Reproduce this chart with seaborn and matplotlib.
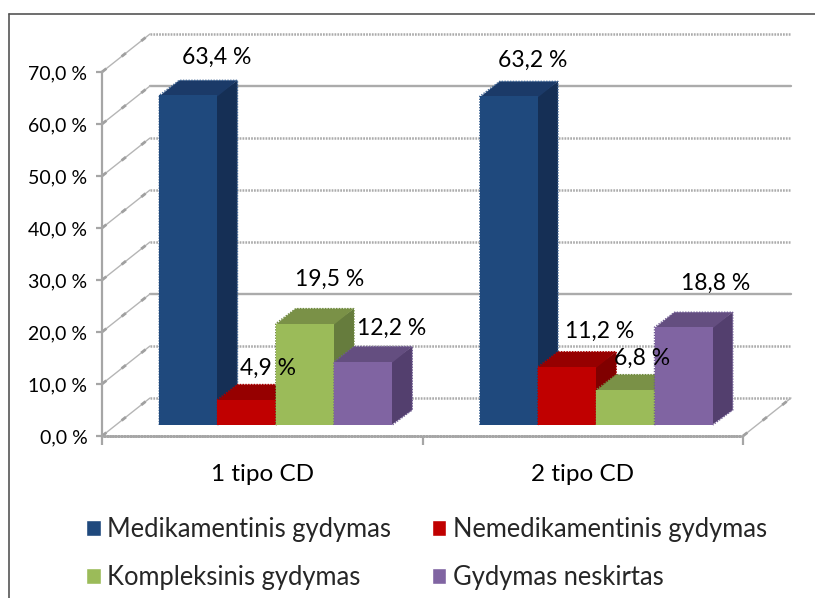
import matplotlib
matplotlib.use("Agg")
import matplotlib.pyplot as plt
from matplotlib.lines import Line2D
from matplotlib.patches import Polygon
from matplotlib.ticker import FuncFormatter
import pandas as pd
import seaborn as sns

# Values
groups = ["1 tipo CD", "2 tipo CD"]
treatments = ["Medikamentinis gydymas", "Nemedikamentinis gydymas",
              "Kompleksinis gydymas", "Gydymas neskirtas"]
medikamentinis = [63.4, 63.2]
nemedikamentinis = [4.9, 11.2]
kompleksinis = [19.5, 6.8]
neskirtas = [12.2, 18.8]
y_ticks = [0, 10, 20, 30, 40, 50, 60, 70]

# Face colours per series: front, top, side, dotted outline
front_colors = ["#1F497D", "#C00000", "#9BBB59", "#8064A2"]
top_colors = ["#1B3A68", "#960000", "#7A9147", "#644E80"]
side_colors = ["#152F55", "#800000", "#667C3D", "#533F6E"]
edge_colors = ["#3F6594", "#A80000", "#6F8A40", "#6E5A92"]

W, H = 815, 598
sns.set_theme(style="white")
plt.rcParams["font.family"] = ["Lato", "DejaVu Sans"]

df = pd.DataFrame({
    "group": groups * 4,
    "treatment": [t for t in treatments for _ in groups],
    "value": medikamentinis + nemedikamentinis + kompleksinis + neskirtas,
})

fig = plt.figure(figsize=(W / 100, H / 100), dpi=100, facecolor="white")
ax = fig.add_axes([102 / W, 1 - 436 / H, (743 - 102) / W, (436 - 72) / H])

sns.barplot(data=df, x="group", y="value", hue="treatment", order=groups,
            hue_order=treatments, palette=front_colors, saturation=1,
            width=0.727, gap=0, dodge=True, errorbar=None, ax=ax, legend=True)
ax.set_xlim(-0.5, 1.5)
ax.set_ylim(0, 70)

# Pixel lengths expressed in data units
px_x = 2 / (743 - 102)
px_y = 70 / (436 - 72)

# Room of the pseudo-3D scene: back wall, side wall and floor
room_dx, room_dy = 48 * px_x, 38 * px_y
grid_c = "#ABABAB"
dotted = (0, (0.7, 0.45))
for t in y_ticks:
    style = "-" if t in (20, 60) else dotted
    ax.plot([-0.5 + room_dx, 1.5 + room_dx], [t + room_dy] * 2, color=grid_c,
            lw=1.7 if t in (20, 60) else 1.8, ls=style, clip_on=False, zorder=1)
    ax.plot([-0.5, -0.5 + room_dx], [t, t + room_dy], color="#B5B5B5", lw=1,
            clip_on=False, zorder=1)
    ax.plot([-0.5, -0.5 + room_dx], [t, t + room_dy], color="#A0A0A0", lw=2,
            ls=(0, (2, 7)), clip_on=False, zorder=1)
ax.plot([1.5, 1.5 + room_dx], [0, room_dy], color="#B5B5B5", lw=1, clip_on=False, zorder=1)
ax.plot([1.5, 1.5 + room_dx], [0, room_dy], color="#A0A0A0", lw=2,
        ls=(0, (2, 7)), clip_on=False, zorder=1)

# Bars sit forward of the wall: move them onto the raised floor and add depth faces
lift = 11 * px_y
shift = 13.5 * px_x
depth_x, depth_y = 20 * px_x, 15 * px_y
label_offsets = [
    [(28, -38), (24, -36)],
    [(21, -31), (33, -35)],
    [(25, -44), (17, -31)],
    [(28, -33), (32, -44)],
]
order = 3
for g in range(len(groups)):
    for s, container in enumerate(ax.containers):
        bar = container[g]
        bar.set_x(bar.get_x() + shift)
        bar.set_y(lift)
        x0, x1 = bar.get_x(), bar.get_x() + bar.get_width()
        y0, y1 = lift, lift + bar.get_height()
        # Faces tuck one pixel under the front so no seam shows at the joins
        ax.add_patch(Polygon([(x1 - px_x, y0), (x1 + depth_x, y0 + depth_y),
                              (x1 + depth_x, y1 + depth_y), (x1 - px_x, y1)],
                             facecolor=side_colors[s], edgecolor="none", zorder=order))
        ax.add_patch(Polygon([(x0, y1 - px_y), (x1, y1 - px_y),
                              (x1 + depth_x, y1 + depth_y), (x0 + depth_x, y1 + depth_y)],
                             facecolor=top_colors[s], edgecolor="none", zorder=order))
        # Dotted fringe around the outer silhouette of the block
        ax.add_patch(Polygon([(x0, y0), (x0, y1), (x0 + depth_x, y1 + depth_y),
                              (x1 + depth_x, y1 + depth_y), (x1 + depth_x, y0 + depth_y),
                              (x1, y0)],
                             closed=False, facecolor="none", edgecolor=edge_colors[s],
                             lw=1.0, ls=(0, (1, 1)), zorder=order))
        bar.set_zorder(order + 1)
        bar.set_linewidth(0)
        order += 2

# Value labels
for s, container in enumerate(ax.containers):
    for g, bar in enumerate(container):
        value = bar.get_height()
        ox, oy = label_offsets[s][g]
        ax.annotate(f"{value:.1f} %".replace(".", ","),
                    xy=(bar.get_x() + bar.get_width() / 2, bar.get_y() + value),
                    xytext=(ox * 0.72, -oy * 0.72), textcoords="offset points",
                    ha="center", va="center", fontsize=16.5, color="black",
                    zorder=100, annotation_clip=False)

# Axes
for side in ("top", "right"):
    ax.spines[side].set_visible(False)
ax.patch.set_visible(False)
ax.spines["left"].set_color("#A6A6A6")
ax.spines["left"].set_linewidth(1.6)
ax.spines["bottom"].set_color("#A6A6A6")
ax.spines["bottom"].set_linewidth(1.8)
ax.spines["bottom"].set_linestyle(dotted)
ax.set_xlabel("")
ax.set_ylabel("")
ax.set_yticks(y_ticks)
ax.yaxis.set_major_formatter(FuncFormatter(lambda v, _: f"{v:.1f} %".replace(".", ",")))
ax.tick_params(axis="y", left=True, length=4.5, width=1.6, color="#A6A6A6",
               labelsize=14, pad=6, labelcolor="black")
ax.tick_params(axis="x", which="major", bottom=False, labelsize=17.5, pad=14,
               labelcolor="black")
ax.set_xticks([-0.5, 0.5, 1.5], minor=True)
ax.tick_params(axis="x", which="minor", bottom=True, length=6.5, width=1.6, color="#A6A6A6")

# Legend laid out in two rows, filled by column
handles, labels = ax.get_legend_handles_labels()
rearranged = [0, 2, 1, 3]
ax.legend([handles[i] for i in rearranged], [labels[i] for i in rearranged],
          ncols=2, frameon=False, fontsize=18.4, handlelength=0.58, handleheight=0.58,
          handletextpad=0.25, columnspacing=1.58, labelspacing=0.9,
          loc="upper left", bbox_to_anchor=(86 / W, 1 - 517 / H),
          bbox_transform=fig.transFigure, borderpad=0, borderaxespad=0)

# Outer chart frame, open on the right and bottom
frame_c = "#555555"
fig.add_artist(Line2D([9 / W, 1], [1 - 14 / H] * 2, color=frame_c, lw=1.2))
fig.add_artist(Line2D([9 / W] * 2, [1 - 14 / H, 0], color=frame_c, lw=1.2))

fig.savefig("out.png", dpi=100)
